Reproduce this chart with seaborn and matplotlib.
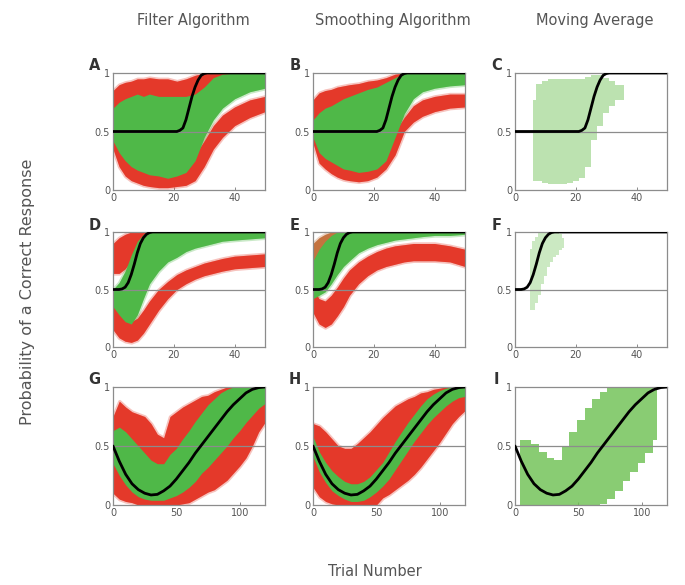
import matplotlib
matplotlib.use("Agg")
import matplotlib.pyplot as plt
import seaborn as sns

# ---- trial grids ----
trials_50 = [0, 2, 4, 6, 8, 10, 12, 15, 18, 21, 24, 27, 30, 33, 36, 40, 45, 50]
trials_120 = [0, 5, 10, 15, 20, 25, 30, 35, 40, 45, 50, 55, 60, 65, 70, 75, 80, 85,
              90, 95, 100, 105, 110, 115, 120]

# ---- true probability curves (black) ----
true1_x = [0, 20, 21, 22, 23, 24, 25, 26, 27, 28, 29, 30, 31, 50]
true1_y = [0.5, 0.5, 0.5, 0.51, 0.53, 0.6, 0.7, 0.8, 0.88, 0.94, 0.98, 0.995, 1.0, 1.0]
true2_x = [0, 2, 3, 4, 5, 6, 7, 8, 9, 10, 11, 12, 13, 50]
true2_y = [0.5, 0.5, 0.505, 0.52, 0.56, 0.63, 0.72, 0.82, 0.9, 0.95, 0.98, 0.995, 1.0, 1.0]
true3_x = trials_120
true3_y = [0.5, 0.37, 0.26, 0.18, 0.13, 0.1, 0.085, 0.09, 0.12, 0.16, 0.22, 0.29, 0.36,
           0.44, 0.51, 0.58, 0.65, 0.72, 0.79, 0.85, 0.9, 0.95, 0.98, 0.995, 1.0]

# ---- A: filter algorithm, row 1 ----
a_red_lo_bot = [0.35, 0.2, 0.12, 0.08, 0.06, 0.04, 0.03, 0.02, 0.02, 0.03, 0.04, 0.08, 0.2, 0.35, 0.45, 0.55, 0.62, 0.67]
a_red_lo_top = [0.5, 0.5, 0.5, 0.5, 0.5, 0.5, 0.5, 0.5, 0.5, 0.5, 0.45, 0.3, 0.42, 0.55, 0.64, 0.71, 0.77, 0.8]
a_red_up_bot = [0.5, 0.5, 0.5, 0.5, 0.5, 0.5, 0.5, 0.5, 0.5, 0.5, 0.55, 0.7, 0.85, 0.95, 0.96, 0.97, 0.97, 0.97]
a_red_up_top = [0.85, 0.9, 0.92, 0.93, 0.95, 0.95, 0.96, 0.95, 0.95, 0.93, 0.95, 0.98, 1.0, 1.0, 1.0, 1.0, 1.0, 1.0]
a_green_lo = [0.42, 0.32, 0.25, 0.2, 0.17, 0.15, 0.13, 0.12, 0.1, 0.12, 0.15, 0.25, 0.45, 0.6, 0.7, 0.78, 0.84, 0.87]
a_green_hi = [0.7, 0.75, 0.78, 0.8, 0.82, 0.8, 0.82, 0.8, 0.8, 0.8, 0.8, 0.82, 0.88, 0.96, 0.99, 1.0, 1.0, 1.0]

# ---- B: smoothing algorithm, row 1 ----
b_red_lo_bot = [0.4, 0.23, 0.18, 0.14, 0.11, 0.09, 0.08, 0.07, 0.08, 0.11, 0.18, 0.3, 0.5, 0.58, 0.63, 0.67, 0.7, 0.71]
b_red_lo_top = [0.5, 0.5, 0.5, 0.5, 0.5, 0.5, 0.5, 0.5, 0.5, 0.5, 0.5, 0.5, 0.62, 0.72, 0.77, 0.8, 0.82, 0.82]
b_red_up_bot = [0.5, 0.5, 0.5, 0.5, 0.5, 0.5, 0.5, 0.5, 0.5, 0.5, 0.5, 0.6, 0.8, 0.92, 0.94, 0.95, 0.95, 0.95]
b_red_up_top = [0.77, 0.83, 0.85, 0.86, 0.88, 0.89, 0.9, 0.91, 0.93, 0.94, 0.96, 0.99, 1.0, 1.0, 1.0, 1.0, 1.0, 1.0]
b_green_lo = [0.45, 0.32, 0.27, 0.24, 0.21, 0.18, 0.17, 0.15, 0.16, 0.18, 0.25, 0.45, 0.65, 0.78, 0.84, 0.87, 0.89, 0.9]
b_green_hi = [0.6, 0.66, 0.7, 0.72, 0.75, 0.78, 0.8, 0.83, 0.86, 0.88, 0.92, 0.96, 1.0, 1.0, 1.0, 1.0, 1.0, 1.0]

# ---- D: filter algorithm, row 2 ----
d_red_lo_bot = [0.15, 0.08, 0.05, 0.04, 0.06, 0.12, 0.2, 0.32, 0.42, 0.5, 0.55, 0.59, 0.62, 0.64, 0.66, 0.68, 0.69, 0.7]
d_red_lo_top = [0.38, 0.3, 0.25, 0.22, 0.25, 0.32, 0.4, 0.5, 0.57, 0.63, 0.67, 0.7, 0.73, 0.75, 0.77, 0.79, 0.8, 0.81]
d_red_up_bot = [0.64, 0.64, 0.68, 0.75, 0.85, 0.92, 0.95, 0.97, 0.98, 0.99, 0.99, 1.0, 1.0, 1.0, 1.0, 1.0, 1.0, 1.0]
d_red_up_top = [0.9, 0.95, 0.98, 1.0, 1.0, 1.0, 1.0, 1.0, 1.0, 1.0, 1.0, 1.0, 1.0, 1.0, 1.0, 1.0, 1.0, 1.0]
d_green_lo = [0.35, 0.28, 0.22, 0.2, 0.28, 0.42, 0.55, 0.66, 0.74, 0.78, 0.83, 0.86, 0.88, 0.9, 0.92, 0.93, 0.94, 0.95]
d_green_hi = [0.5, 0.56, 0.66, 0.8, 0.92, 0.98, 1.0, 1.0, 1.0, 1.0, 1.0, 1.0, 1.0, 1.0, 1.0, 1.0, 1.0, 1.0]

# ---- E: smoothing algorithm, row 2 ----
e_red_lo_bot = [0.3, 0.2, 0.17, 0.2, 0.27, 0.35, 0.45, 0.55, 0.62, 0.67, 0.7, 0.72, 0.74, 0.75, 0.75, 0.75, 0.74, 0.7]
e_red_lo_top = [0.5, 0.42, 0.4, 0.45, 0.52, 0.6, 0.67, 0.74, 0.79, 0.83, 0.86, 0.88, 0.89, 0.9, 0.9, 0.9, 0.88, 0.85]
e_red_up_bot = [0.6, 0.65, 0.72, 0.8, 0.88, 0.93, 0.96, 0.98, 0.99, 1.0, 1.0, 1.0, 1.0, 1.0, 1.0, 1.0, 1.0, 1.0]
e_red_up_top = [0.9, 0.95, 0.98, 1.0, 1.0, 1.0, 1.0, 1.0, 1.0, 1.0, 1.0, 1.0, 1.0, 1.0, 1.0, 1.0, 1.0, 1.0]
e_green_lo = [0.42, 0.45, 0.48, 0.55, 0.63, 0.7, 0.75, 0.82, 0.86, 0.89, 0.91, 0.93, 0.94, 0.95, 0.96, 0.97, 0.97, 0.98]
e_green_hi = [0.75, 0.85, 0.92, 0.97, 1.0, 1.0, 1.0, 1.0, 1.0, 1.0, 1.0, 1.0, 1.0, 1.0, 1.0, 1.0, 1.0, 1.0]

# ---- G: filter algorithm, row 3 ----
g_red_bot = [0.1, 0.05, 0.03, 0.02, 0.0, 0.0, 0.0, 0.0, 0.0, 0.0, 0.0, 0.01, 0.02, 0.05, 0.08,
             0.11, 0.13, 0.17, 0.21, 0.27, 0.33, 0.4, 0.5, 0.62, 0.7]
g_red_top = [0.75, 0.88, 0.83, 0.79, 0.77, 0.75, 0.69, 0.6, 0.57, 0.75, 0.79, 0.83, 0.86,
             0.89, 0.92, 0.93, 0.96, 0.98, 1.0, 1.0, 1.0, 1.0, 1.0, 1.0, 1.0]
g_green_lo = [0.35, 0.25, 0.17, 0.11, 0.07, 0.05, 0.04, 0.04, 0.04, 0.06, 0.08, 0.11, 0.15,
              0.2, 0.27, 0.32, 0.38, 0.44, 0.5, 0.57, 0.63, 0.7, 0.76, 0.82, 0.86]
g_green_hi = [0.63, 0.66, 0.62, 0.56, 0.5, 0.44, 0.38, 0.35, 0.35, 0.43, 0.48, 0.56, 0.63,
              0.71, 0.78, 0.85, 0.9, 0.95, 0.98, 1.0, 1.0, 1.0, 1.0, 1.0, 1.0]

# ---- H: smoothing algorithm, row 3 ----
h_red_bot = [0.15, 0.07, 0.03, 0.01, 0.0, 0.0, 0.0, 0.0, 0.0, 0.0, 0.0, 0.06, 0.09, 0.13,
             0.17, 0.21, 0.26, 0.32, 0.39, 0.46, 0.53, 0.61, 0.69, 0.75, 0.8]
h_red_top = [0.69, 0.67, 0.62, 0.56, 0.5, 0.48, 0.48, 0.52, 0.57, 0.62, 0.68, 0.74, 0.79,
             0.84, 0.87, 0.9, 0.92, 0.95, 0.96, 0.98, 0.99, 1.0, 1.0, 1.0, 1.0]
h_green_lo = [0.41, 0.28, 0.19, 0.12, 0.08, 0.05, 0.03, 0.03, 0.04, 0.07, 0.11, 0.16, 0.22,
              0.3, 0.38, 0.46, 0.54, 0.61, 0.68, 0.74, 0.79, 0.84, 0.88, 0.91, 0.92]
h_green_hi = [0.58, 0.45, 0.36, 0.29, 0.24, 0.2, 0.18, 0.18, 0.2, 0.24, 0.3, 0.36, 0.45,
              0.54, 0.62, 0.7, 0.77, 0.84, 0.9, 0.94, 0.97, 0.99, 1.0, 1.0, 1.0]

# ---- moving average panels (C, F, I) ----
c_trials = [6, 8, 10, 12, 14, 16, 18, 20, 22, 24, 26, 28, 30, 32, 34, 36]
c_lo = [0.08, 0.08, 0.06, 0.05, 0.05, 0.05, 0.06, 0.08, 0.1, 0.2, 0.43, 0.55, 0.66, 0.72, 0.77, 0.77]
c_hi = [0.77, 0.91, 0.93, 0.95, 0.95, 0.95, 0.95, 0.95, 0.95, 0.97, 0.98, 0.98, 0.96, 0.93, 0.9, 0.9]
f_trials = [5, 6, 7, 8, 9, 10, 11, 12, 13, 14, 15, 16]
f_lo = [0.32, 0.32, 0.38, 0.45, 0.55, 0.62, 0.7, 0.74, 0.78, 0.8, 0.84, 0.86]
f_hi = [0.85, 0.92, 0.96, 0.99, 1.0, 1.0, 1.0, 1.0, 1.0, 1.0, 0.98, 0.95]
i_trials = [4, 10, 16, 22, 28, 34, 40, 46, 52, 58, 64, 70, 76, 82, 88, 94, 100, 106, 112]
i_lo = [0, 0, 0, 0, 0, 0, 0, 0, 0, 0, 0, 0.01, 0.05, 0.12, 0.2, 0.28, 0.36, 0.44, 0.55]
i_hi = [0.55, 0.55, 0.52, 0.45, 0.4, 0.38, 0.5, 0.62, 0.72, 0.82, 0.9, 0.96, 1.0, 1.0, 1.0,
        1.0, 1.0, 1.0, 0.98]

column_titles = ["Filter Algorithm", "Smoothing Algorithm", "Moving Average"]
panel_letters = ["A", "B", "C", "D", "E", "F", "G", "H", "I"]

RED = "#e4392a"
BROWN = "#c4733f"   # red and green traces overlapping (panel E, upper left)
GREEN = "#4fb848"
MA_GREEN = "#6cc050"
GRAY = "#8c8c8c"
TEXT = "#555555"

sns.set_style("ticks")
plt.rcParams["font.family"] = ["DejaVu Sans"]

fig = plt.figure(figsize=(6.85, 5.85), dpi=100)
W, H = 685.0, 585.0
col_left = [113, 313, 515]
row_box = [(73, 117), (232, 115), (387, 118)]


def band(ax, x, lo, hi, color, alpha=1.0, step=None):
    # soft fringe + solid core, like many overlapping traces
    ax.fill_between(x, lo, hi, color=color, alpha=0.3 * alpha, lw=2.5,
                    edgecolor=color, step=step, zorder=1)
    ax.fill_between(x, lo, hi, color=color, alpha=alpha, lw=0, step=step, zorder=2)


panels = {
    "A": dict(x=trials_50, red=[(a_red_lo_bot, a_red_lo_top, RED), (a_red_up_bot, a_red_up_top, RED)],
              green=(a_green_lo, a_green_hi), true=(true1_x, true1_y)),
    "B": dict(x=trials_50, red=[(b_red_lo_bot, b_red_lo_top, RED), (b_red_up_bot, b_red_up_top, RED)],
              green=(b_green_lo, b_green_hi), true=(true1_x, true1_y)),
    "C": dict(ma=(c_trials, c_lo, c_hi, 0.45), true=(true1_x, true1_y)),
    "D": dict(x=trials_50, red=[(d_red_lo_bot, d_red_lo_top, RED), (d_red_up_bot, d_red_up_top, RED)],
              green=(d_green_lo, d_green_hi), true=(true2_x, true2_y)),
    "E": dict(x=trials_50, red=[(e_red_lo_bot, e_red_lo_top, RED), (e_red_up_bot, e_red_up_top, BROWN)],
              green=(e_green_lo, e_green_hi), true=(true2_x, true2_y)),
    "F": dict(ma=(f_trials, f_lo, f_hi, 0.35), true=(true2_x, true2_y)),
    "G": dict(x=trials_120, red=[(g_red_bot, g_red_top, RED)],
              green=(g_green_lo, g_green_hi), true=(true3_x, true3_y)),
    "H": dict(x=trials_120, red=[(h_red_bot, h_red_top, RED)],
              green=(h_green_lo, h_green_hi), true=(true3_x, true3_y)),
    "I": dict(ma=(i_trials, i_lo, i_hi, 0.8), true=(true3_x, true3_y)),
}

for k, letter in enumerate(panel_letters):
    r, c = divmod(k, 3)
    top, h = row_box[r]
    ax = fig.add_axes([col_left[c] / W, 1 - (top + h) / H, 152 / W, h / H])
    p = panels[letter]

    if "ma" in p:
        mx, mlo, mhi, a = p["ma"]
        ax.fill_between(mx, mlo, mhi, color=MA_GREEN, alpha=a, lw=0, step="mid", zorder=2)
    else:
        for lo, hi, col in p["red"]:
            band(ax, p["x"], lo, hi, col)
        glo, ghi = p["green"]
        band(ax, p["x"], glo, ghi, GREEN)

    ax.axhline(0.5, color=GRAY, lw=0.9, zorder=3)
    tx, ty = p["true"]
    sns.lineplot(x=tx, y=ty, color="black", lw=2.0, ax=ax, zorder=4)

    xmax = 120 if r == 2 else 50
    ax.set_xlim(0, xmax)
    ax.set_ylim(0, 1)
    ax.set_xticks([0, 50, 100] if r == 2 else [0, 20, 40])
    ax.set_yticks([0, 0.5, 1])
    ax.set_yticklabels(["0", "0.5", "1"])
    ax.tick_params(direction="in", length=2.5, width=0.7, colors=GRAY,
                   labelcolor=TEXT, labelsize=7, pad=2)
    for s in ax.spines.values():
        s.set_visible(True)
        s.set_color(GRAY)
        s.set_linewidth(0.9)
    ax.text(-0.12, 1.06, letter, transform=ax.transAxes, fontsize=10.5,
            fontweight="bold", color="#333333", ha="center", va="center")

for c, title in enumerate(column_titles):
    fig.text((col_left[c] + 80) / W, 1 - 20 / H, title, ha="center", va="center",
             fontsize=10.5, color=TEXT)

fig.text(28 / W, 1 - 292 / H, "Probability of a Correct Response", rotation=90,
         ha="center", va="center", fontsize=11.5, color=TEXT)
fig.text(375 / W, 1 - 572 / H, "Trial Number", ha="center", va="center",
         fontsize=10.5, color=TEXT)

fig.savefig("out.png", dpi=100)
